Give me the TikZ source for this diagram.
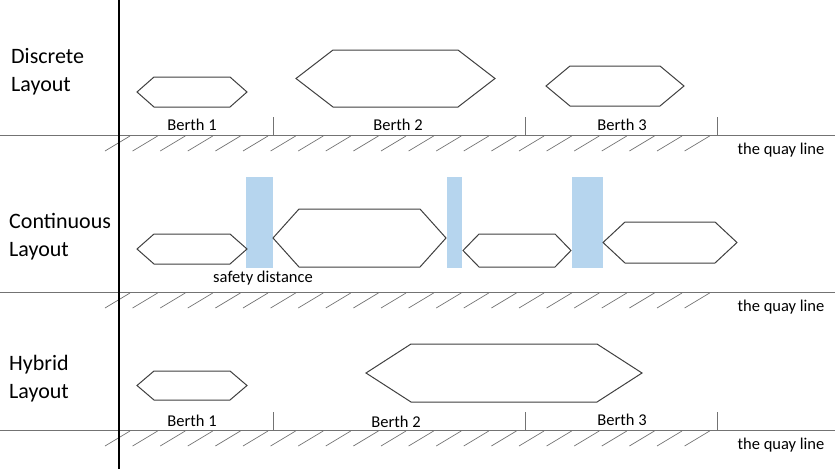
\documentclass[tikz,border=0pt]{standalone}
\usepackage{fontspec}
\setmainfont{Carlito}

\definecolor{safeblue}{RGB}{182,213,238}

\tikzset{
	ship/.style={draw=black!75, line width=1pt, fill=white},
	quay/.style={draw=black!55, line width=0.9pt},
	hatch/.style={draw=black!55, line width=0.7pt},
	gap/.style={fill=safeblue, draw=none},
	rowlabel/.style={anchor=west, align=left, inner sep=0pt, font=\fontsize{22}{28}\selectfont},
	small/.style={inner sep=0pt, font=\fontsize{16.5}{20}\selectfont},
}

% left, right, top, bottom, cut
\newcommand{\vessel}[5]{\draw[ship] (#1,{(#3+#4)/2}) -- (#1+#5,#3) -- (#2-#5,#3) -- (#2,{(#3+#4)/2}) -- (#2-#5,#4) -- (#1+#5,#4) -- cycle;}

\begin{document}
\begin{tikzpicture}[x=1pt,y=-1pt]
	\useasboundingbox (0,0) rectangle (835,469);

	% quay lines with hatching
	\foreach \y/\n in {135/1,292/2,430/3}{
		\draw[quay] (0,\y) -- (835,\y);
		\foreach \i in {0,...,21}
			\draw[hatch] ({105+27.6*\i},\y+16) -- ({130+27.6*\i},\y+1);
		\node[small] (quay\n) at (781,\y+15.5) {the quay line};
	}

	% berth limits
	\foreach \x in {273,525,717}{
		\draw[quay] (\x,117) -- (\x,135);
		\draw[quay] (\x,412) -- (\x,430);
	}

	\draw[line width=1.8pt] (119,0) -- (119,469);

	% row titles
	\node[rowlabel] (discrete) at (11,72) {Discrete\\Layout};
	\node[rowlabel] (continuous) at (9,237) {Continuous\\Layout};
	\node[rowlabel] (hybrid) at (9,379) {Hybrid\\Layout};

	% discrete layout
	\vessel{137}{247}{77}{107}{17}
	\vessel{296}{495}{50}{107}{37}
	\vessel{546}{684}{66}{106}{24}
	\node[small] (b1) at (192,125) {Berth 1};
	\node[small] (b2) at (398,125) {Berth 2};
	\node[small] (b3) at (622,125) {Berth 3};

	% continuous layout
	\fill[gap] (246,177) rectangle (273,268);
	\fill[gap] (447,177) rectangle (462,268);
	\fill[gap] (572,177) rectangle (603,268);
	\vessel{137}{247}{234}{264}{17}
	\vessel{273}{446}{209}{267}{26}
	\vessel{463}{571}{234}{267}{16}
	\vessel{603}{737}{222}{263}{22}
	\node[small] (safety) at (263,278) {safety distance};

	% hybrid layout
	\vessel{137}{247}{371}{400}{17}
	\vessel{366}{642}{344}{402}{45}
	\node[small] (h1) at (192,421) {Berth 1};
	\node[small] (h2) at (396,422) {Berth 2};
	\node[small] (h3) at (622,420) {Berth 3};
\end{tikzpicture}
\end{document}
